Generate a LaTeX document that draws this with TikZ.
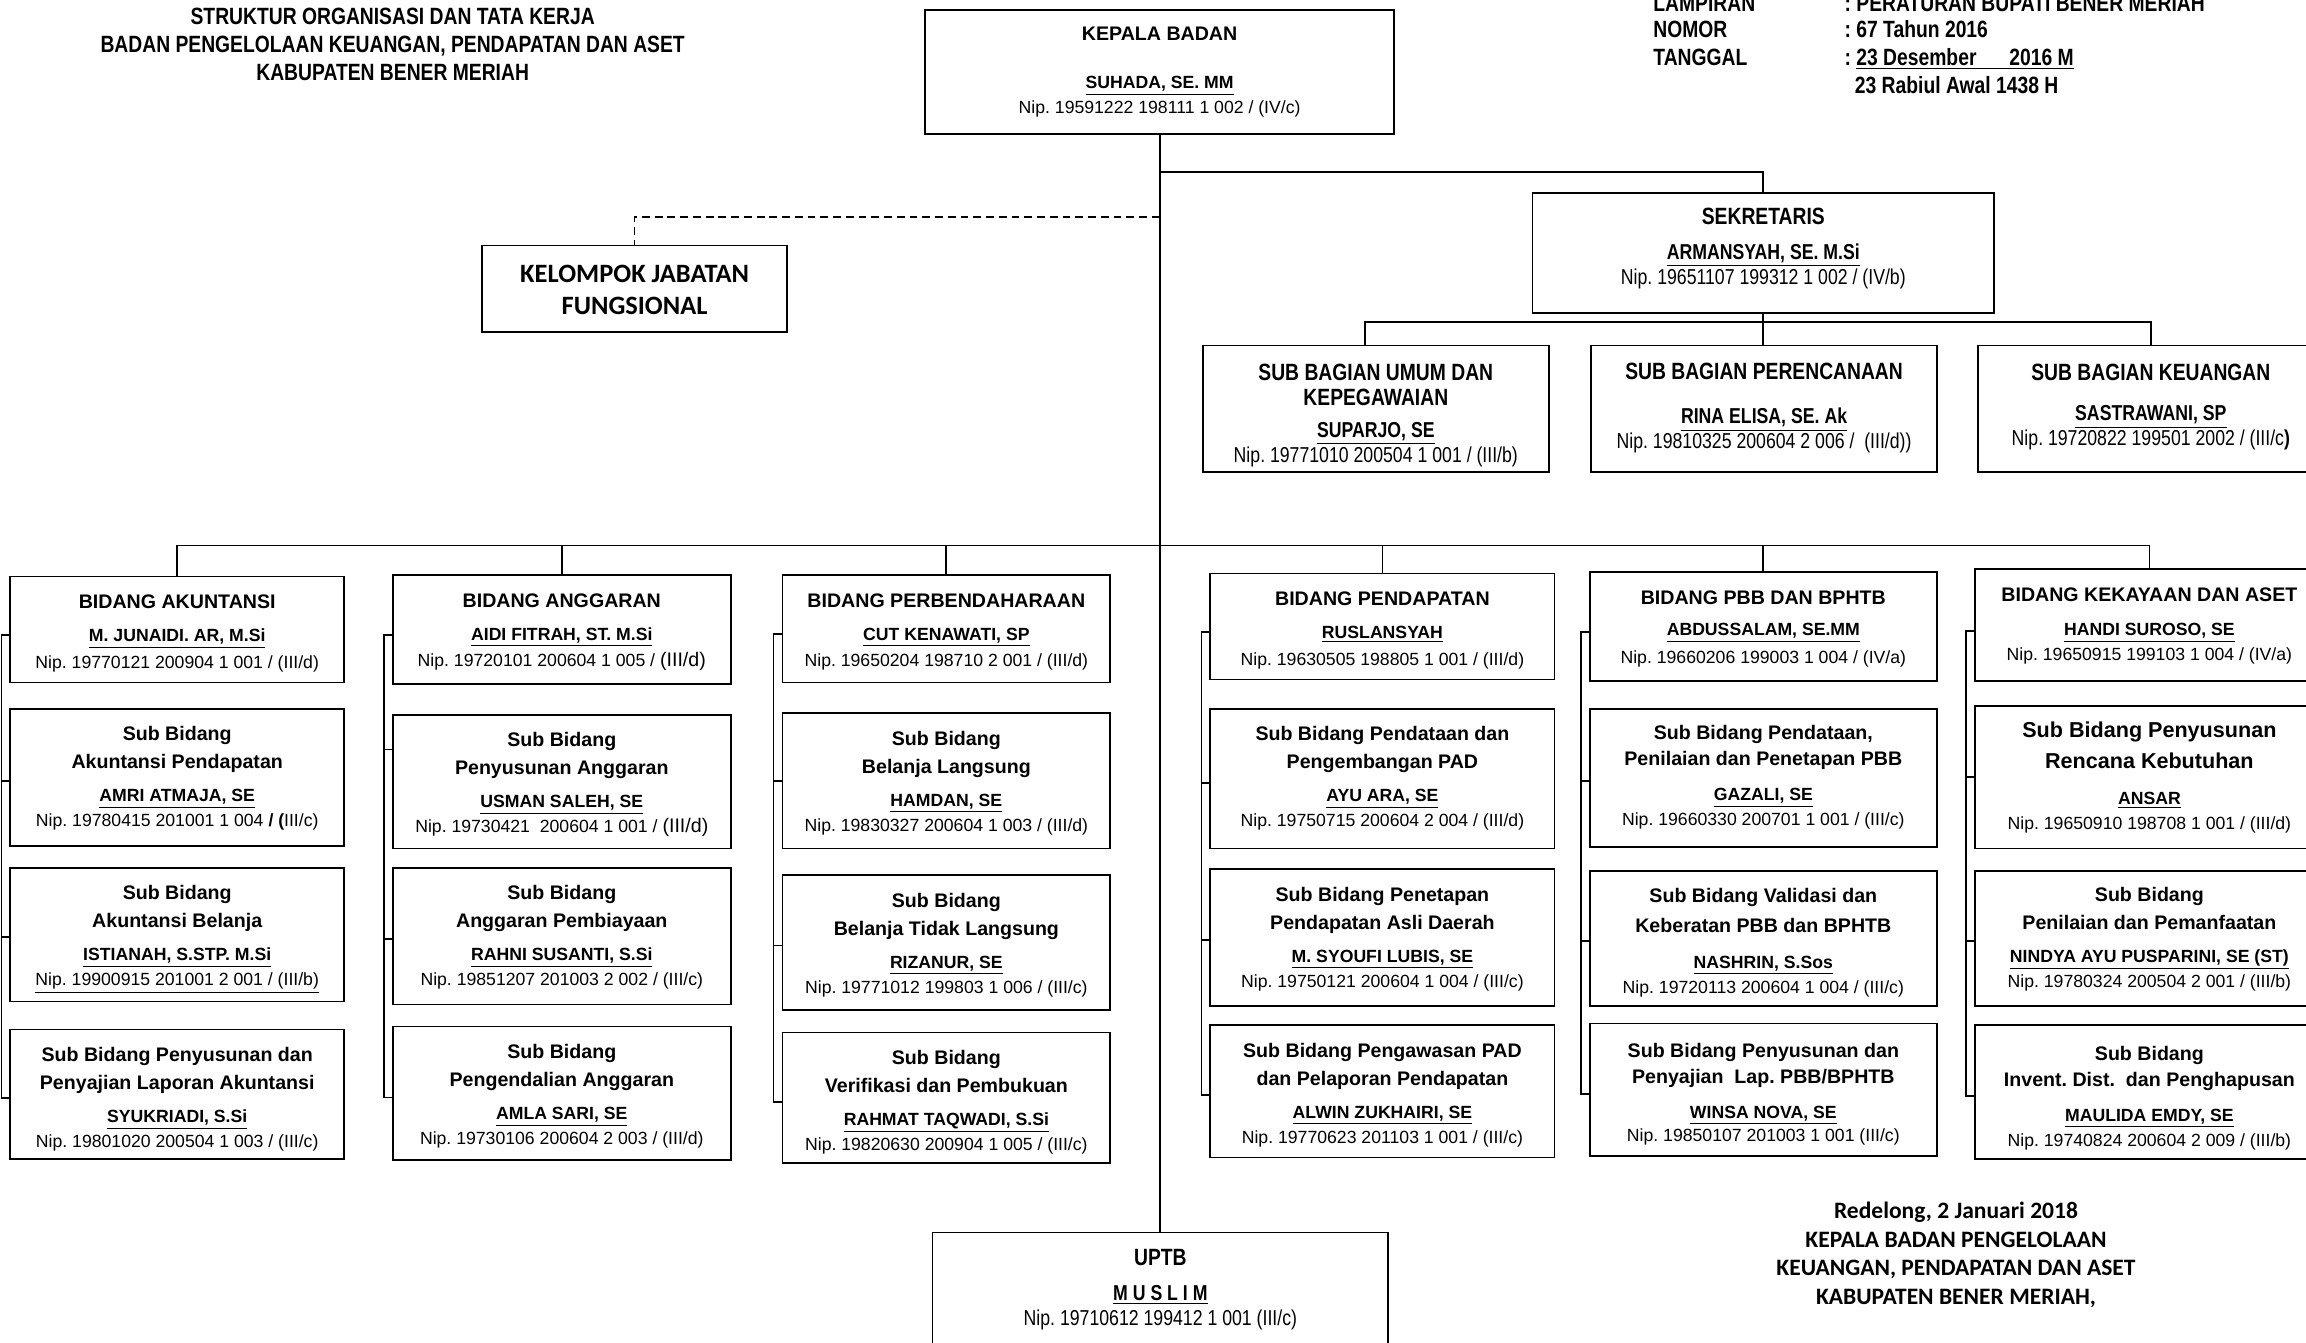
\documentclass[tikz,border=0pt]{standalone}
\usepackage{fontspec}
\setmainfont{Liberation Sans}
\newfontfamily\narrow{Liberation Sans}[FakeStretch=0.82]
\newfontfamily\calib{Carlito}
\usetikzlibrary{calc}
\frenchspacing
\tikzset{
 bx/.style={draw, line width=0.9pt, inner sep=0pt, outer sep=0pt, rectangle},
 ln/.style={line width=0.9pt},
 dl/.style={line width=0.9pt, dash pattern=on 4pt off 2.5pt},
 tl/.style={inner sep=0pt, anchor=base},
 hd/.style={tl, font=\fontsize{10}{12}\selectfont\bfseries, yshift=-3.6pt},
 nm/.style={tl, font=\fontsize{9}{11}\selectfont\bfseries, yshift=-3.2pt},
 np/.style={tl, font=\fontsize{9}{11}\selectfont, yshift=-3.2pt},
 nhd/.style={tl, font=\narrow\fontsize{12}{14}\selectfont\bfseries, yshift=-4.3pt},
 nnm/.style={tl, font=\narrow\fontsize{11}{13}\selectfont\bfseries, yshift=-3.9pt},
 nnp/.style={tl, font=\narrow\fontsize{11}{13}\selectfont, yshift=-3.9pt},
 lw/.style={nhd, anchor=base west},
 cal/.style={tl, font=\calib\fontsize{12}{14}\selectfont\bfseries, yshift=-3.9pt},
 calb/.style={tl, font=\calib\fontsize{13.5}{16}\selectfont\bfseries, yshift=-4.35pt},
}
\newcommand\mkbox[5]{\node[bx, minimum width={(#4-#2)*0.75pt}, minimum height={(#5-#3)*0.75pt}] (#1) at ({(#2+#4)/2},{(#3+#5)/2}) {};}
\def\oA{17}\def\oB{36}\def\oC{59}\def\oD{76}
\def\bA{17}\def\bB{40}\def\bC{58}
\newcommand\subbox[9]{%
 \mkbox{#1}{#2}{#3}{#4}{#5}
 \node[hd] (#1a) at ({(#2+#4)/2},{#3+\oA}) {#6};
 \node[hd] (#1b) at ({(#2+#4)/2},{#3+\oB}) {#7};
 \node[nm] (#1c) at ({(#2+#4)/2},{#3+\oC}) {\underline{#8}};
 \node[np] (#1d) at ({(#2+#4)/2},{#3+\oD}) {#9};
}
\newcommand\bidbox[8]{%
 \mkbox{#1}{#2}{#3}{#4}{#5}
 \node[hd] (#1a) at ({(#2+#4)/2},{#3+\bA}) {#6};
 \node[nm] (#1c) at ({(#2+#4)/2},{#3+\bB}) {\underline{#7}};
 \node[np] (#1d) at ({(#2+#4)/2},{#3+\bC}) {#8};
}
\newcommand\brak[5]{%
 \coordinate (#1pa) at ($(#1.north west)!0.55!(#1.south west)$);
 \coordinate (#1pb) at ($(#2.north west)!#5!(#2.south west)$);
 \coordinate (#1pc) at ($(#3.north west)!0.52!(#3.south west)$);
 \coordinate (#1pd) at ($(#4.north west)!0.53!(#4.south west)$);
 \draw[ln] (#1pa) -- ++(-6,0) coordinate (#1q) |- (#1pd);
 \draw[ln] (#1pb) -- (#1pb -| #1q);
 \draw[ln] (#1pc) -- (#1pc -| #1q);
}
\begin{document}
\begin{tikzpicture}[x=0.75pt,y=-0.75pt]
\useasboundingbox (0,0) rectangle (1568,913);
\clip (0,0) rectangle (1568,913);
\fill[white] (0,0) rectangle (1568,913);

% header left
\node[nhd] (h1) at (267,11) {STRUKTUR ORGANISASI DAN TATA KERJA};
\node[nhd] (h2) at (267,30) {BADAN PENGELOLAAN KEUANGAN, PENDAPATAN DAN ASET};
\node[nhd] (h3) at (267,49) {KABUPATEN BENER MERIAH};

% header right
\node[lw] (r1) at (1124,2) {LAMPIRAN};
\node[lw] (r2) at (1254,2) {: PERATURAN BUPATI BENER MERIAH};
\node[lw] (r3) at (1124,20) {NOMOR};
\node[lw] (r4) at (1254,20) {: 67 Tahun 2016};
\node[lw] (r5) at (1124,39) {TANGGAL};
\node[lw] (r6) at (1254,39) {: \underline{23 Desember\hspace{14pt} 2016 M}};
\node[lw] (r7) at (1261,58) {23 Rabiul Awal 1438 H};

% Kepala
\mkbox{kb}{629}{7}{948}{91}
\node[hd] (kba) at (788.5,23) {KEPALA BADAN};
\node[nm] (kbc) at (788.5,56) {\underline{SUHADA, SE. MM}};
\node[np] (kbd) at (788.5,73) {Nip. 19591222 198111 1 002 / (IV/c)};

% Sekretaris
\mkbox{sk}{1042}{131}{1356}{213}
\node[nhd] (ska) at (1199,147) {SEKRETARIS};
\node[nnm] (skc) at (1199,171) {\underline{ARMANSYAH, SE. M.Si}};
\node[nnp] (skd) at (1199,188) {Nip. 19651107 199312 1 002 / (IV/b)};

% Kelompok
\mkbox{kf}{328}{167}{535}{226}
\node[calb] (kfa) at (431.5,186) {KELOMPOK JABATAN};
\node[calb] (kfb) at (431.5,208) {FUNGSIONAL};

% Sub bagian
\mkbox{su}{818}{235}{1053}{321}
\node[nhd] (sua) at (935.5,253) {SUB BAGIAN UMUM DAN};
\node[nhd] (sub) at (935.5,270) {KEPEGAWAIAN};
\node[nnm] (suc) at (935.5,292) {\underline{SUPARJO, SE}};
\node[nnp] (sud) at (935.5,309) {Nip. 19771010 200504 1 001 / (III/b)};

\mkbox{sp}{1082}{235}{1317}{321}
\node[nhd] (spa) at (1199.5,252) {SUB BAGIAN PERENCANAAN};
\node[nnm] (spc) at (1199.5,283) {\underline{RINA ELISA, SE. Ak}};
\node[nnp] (spd) at (1199.5,300) {Nip. 19810325 200604 2 006 /\ \ (III/d))};

\mkbox{kg}{1345}{235}{1580}{321}
\node[nhd] (kga) at (1462.5,253) {SUB BAGIAN KEUANGAN};
\node[nnm] (kgc) at (1462.5,281) {\underline{SASTRAWANI, SP}};
\node[nnp] (kgd) at (1462.5,298) {Nip. 19720822 199501 2002 / (III/c\textbf{)}};

% UPTB
\mkbox{up}{634}{838}{944}{930}
\node[nhd] (upa) at (789,855) {UPTB};
\node[nnm] (upc) at (789,879) {\underline{M U S L I M}};
\node[nnp] (upd) at (789,896) {Nip. 19710612 199412 1 001 (III/c)};

% signature
\node[cal] (g1) at (1330,823) {Redelong, 2 Januari 2018};
\node[cal] (g2) at (1330,843) {KEPALA BADAN PENGELOLAAN};
\node[cal] (g3) at (1330,862) {KEUANGAN, PENDAPATAN DAN ASET};
\node[cal] (g4) at (1330,882) {KABUPATEN BENER MERIAH,};

% Column 1
\bidbox{ca}{7}{392}{234}{464}{BIDANG AKUNTANSI}{M. JUNAIDI. AR, M.Si}{Nip. 19770121 200904 1 001 / (III/d)}
\subbox{caa}{7}{482}{234}{575}{Sub Bidang}{Akuntansi Pendapatan}{AMRI ATMAJA, SE}{Nip. 19780415 201001 1 004 \textbf{/ (}III/c)}
\subbox{cab}{7}{590}{234}{681}{Sub Bidang}{Akuntansi Belanja}{ISTIANAH, S.STP. M.Si}{\underline{Nip. 19900915 201001 2 001 / (III/b)}}
\subbox{cac}{7}{700}{234}{788}{Sub Bidang Penyusunan dan}{Penyajian Laporan Akuntansi}{SYUKRIADI, S.Si}{Nip. 19801020 200504 1 003 / (III/c)}

% Column 2
\bidbox{cb}{267}{391}{497}{465}{BIDANG ANGGARAN}{AIDI FITRAH, ST. M.Si}{Nip. 19720101 200604 1 005 / {\fontsize{10}{12}\selectfont(III/d)}}
\subbox{cba}{267}{486}{497}{577}{Sub Bidang}{Penyusunan Anggaran}{USMAN SALEH, SE}{Nip. 19730421\ \ 200604 1 001 / {\fontsize{10}{12}\selectfont(III/d)}}
\subbox{cbb}{267}{590}{497}{683}{Sub Bidang}{Anggaran Pembiayaan}{RAHNI SUSANTI, S.Si}{Nip. 19851207 201003 2 002 / (III/c)}
\subbox{cbc}{267}{698}{497}{789}{Sub Bidang}{Pengendalian Anggaran}{AMLA SARI, SE}{Nip. 19730106 200604 2 003 / (III/d)}

% Column 3
\bidbox{cc}{532}{391}{755}{464}{BIDANG PERBENDAHARAAN}{CUT KENAWATI, SP}{Nip. 19650204 198710 2 001 / (III/d)}
\subbox{cca}{532}{485}{755}{577}{Sub Bidang}{Belanja Langsung}{HAMDAN, SE}{Nip. 19830327 200604 1 003 / (III/d)}
\subbox{ccb}{532}{595}{755}{687}{Sub Bidang}{Belanja Tidak Langsung}{RIZANUR, SE}{Nip. 19771012 199803 1 006 / (III/c)}
\subbox{ccc}{532}{702}{755}{791}{Sub Bidang}{Verifikasi dan Pembukuan}{RAHMAT TAQWADI, S.Si}{Nip. 19820630 200904 1 005 / (III/c)}

% Column 4
\bidbox{cd}{823}{390}{1057}{462}{BIDANG PENDAPATAN}{RUSLANSYAH}{Nip. 19630505 198805 1 001 / (III/d)}
\subbox{cda}{823}{482}{1057}{577}{Sub Bidang Pendataan dan}{Pengembangan PAD}{AYU ARA, SE}{Nip. 19750715 200604 2 004 / (III/d)}
\subbox{cdb}{823}{591}{1057}{684}{Sub Bidang Penetapan}{Pendapatan Asli Daerah}{M. SYOUFI LUBIS, SE}{Nip. 19750121 200604 1 004 / (III/c)}
\subbox{cdc}{823}{697}{1057}{787}{Sub Bidang Pengawasan PAD}{dan Pelaporan Pendapatan}{ALWIN ZUKHAIRI, SE}{Nip. 19770623 201103 1 001 / (III/c)}

% Column 5
\def\bB{39}
\bidbox{ce}{1081}{389}{1317}{463}{BIDANG PBB DAN BPHTB}{ABDUSSALAM, SE.MM}{Nip. 19660206 199003 1 004 / (IV/a)}
\def\oA{16}\def\oB{34}\def\oC{58}\def\oD{75}
\subbox{cea}{1081}{482}{1317}{576}{Sub Bidang Pendataan,}{Penilaian dan Penetapan PBB}{GAZALI, SE}{Nip. 19660330 200701 1 001 / (III/c)}
\def\oA{17}\def\oB{37}\def\oC{62}\def\oD{79}
\subbox{ceb}{1081}{592}{1317}{684}{Sub Bidang Validasi dan}{Keberatan PBB dan BPHTB}{NASHRIN, S.Sos}{Nip. 19720113 200604 1 004 / (III/c)}
\def\oA{18}\def\oB{36}\def\oC{60}\def\oD{76}
\subbox{cec}{1081}{696}{1317}{786}{Sub Bidang Penyusunan dan}{Penyajian\ \ Lap. PBB/BPHTB}{WINSA NOVA, SE}{Nip. 19850107 201003 1 001 (III/c)}

% Column 6
\def\bB{41}
\bidbox{cf}{1343}{387}{1580}{463}{BIDANG KEKAYAAN DAN ASET}{HANDI SUROSO, SE}{Nip. 19650915 199103 1 004 / (IV/a)}
\def\oA{17}\def\oB{38}\def\oC{63}\def\oD{80}
\subbox{cfa}{1343}{480}{1580}{577}{\fontsize{11}{13}\selectfont Sub Bidang Penyusunan}{\fontsize{11}{13}\selectfont Rencana Kebutuhan}{ANSAR}{Nip. 19650910 198708 1 001 / (III/d)}
\def\oA{16}\def\oB{35}\def\oC{58}\def\oD{75}
\subbox{cfb}{1343}{592}{1580}{684}{Sub Bidang}{Penilaian dan Pemanfaatan}{NINDYA AYU PUSPARINI, SE (ST)}{Nip. 19780324 200504 2 001 / (III/b)}
\def\oA{19}\def\oB{37}\def\oC{61}\def\oD{78}
\subbox{cfc}{1343}{697}{1580}{788}{Sub Bidang}{Invent. Dist.\ \ dan Penghapusan}{MAULIDA EMDY, SE}{Nip. 19740824 200604 2 009 / (III/b)}

% brackets
\brak{ca}{caa}{cab}{cac}{0.53}
\brak{cb}{cba}{cbb}{cbc}{0.26}
\brak{cc}{cca}{ccb}{ccc}{0.5}
\brak{cd}{cda}{cdb}{cdc}{0.53}
\brak{ce}{cea}{ceb}{cec}{0.52}
\brak{cf}{cfa}{cfb}{cfc}{0.5}

% main connectors
\draw[ln] (kb.south) -- (kb.south |- up.north);
\coordinate (j1) at (788.5,117);
\draw[ln] (j1) -| (sk.north);
\coordinate (j2) at (788.5,147.5);
\draw[dl] (j2) -| (kf.north);

\coordinate (s1) at (928,219);
\draw[ln] (sk.south) -- (sk.south |- sp.north);
\draw[ln] (s1 |- su.north) -- (s1) -- (kg.north |- s1) -- (kg.north);

\coordinate (m) at (0,371);
\draw[ln] (ca.north) -- (ca.north |- m) -- (cf.north |- m) -- (cf.north);
\draw[ln] (cb.north |- m) -- (cb.north);
\draw[ln] (cc.north |- m) -- (cc.north);
\draw[ln] (cd.north |- m) -- (cd.north);
\draw[ln] (ce.north |- m) -- (ce.north);
\end{tikzpicture}
\end{document}
